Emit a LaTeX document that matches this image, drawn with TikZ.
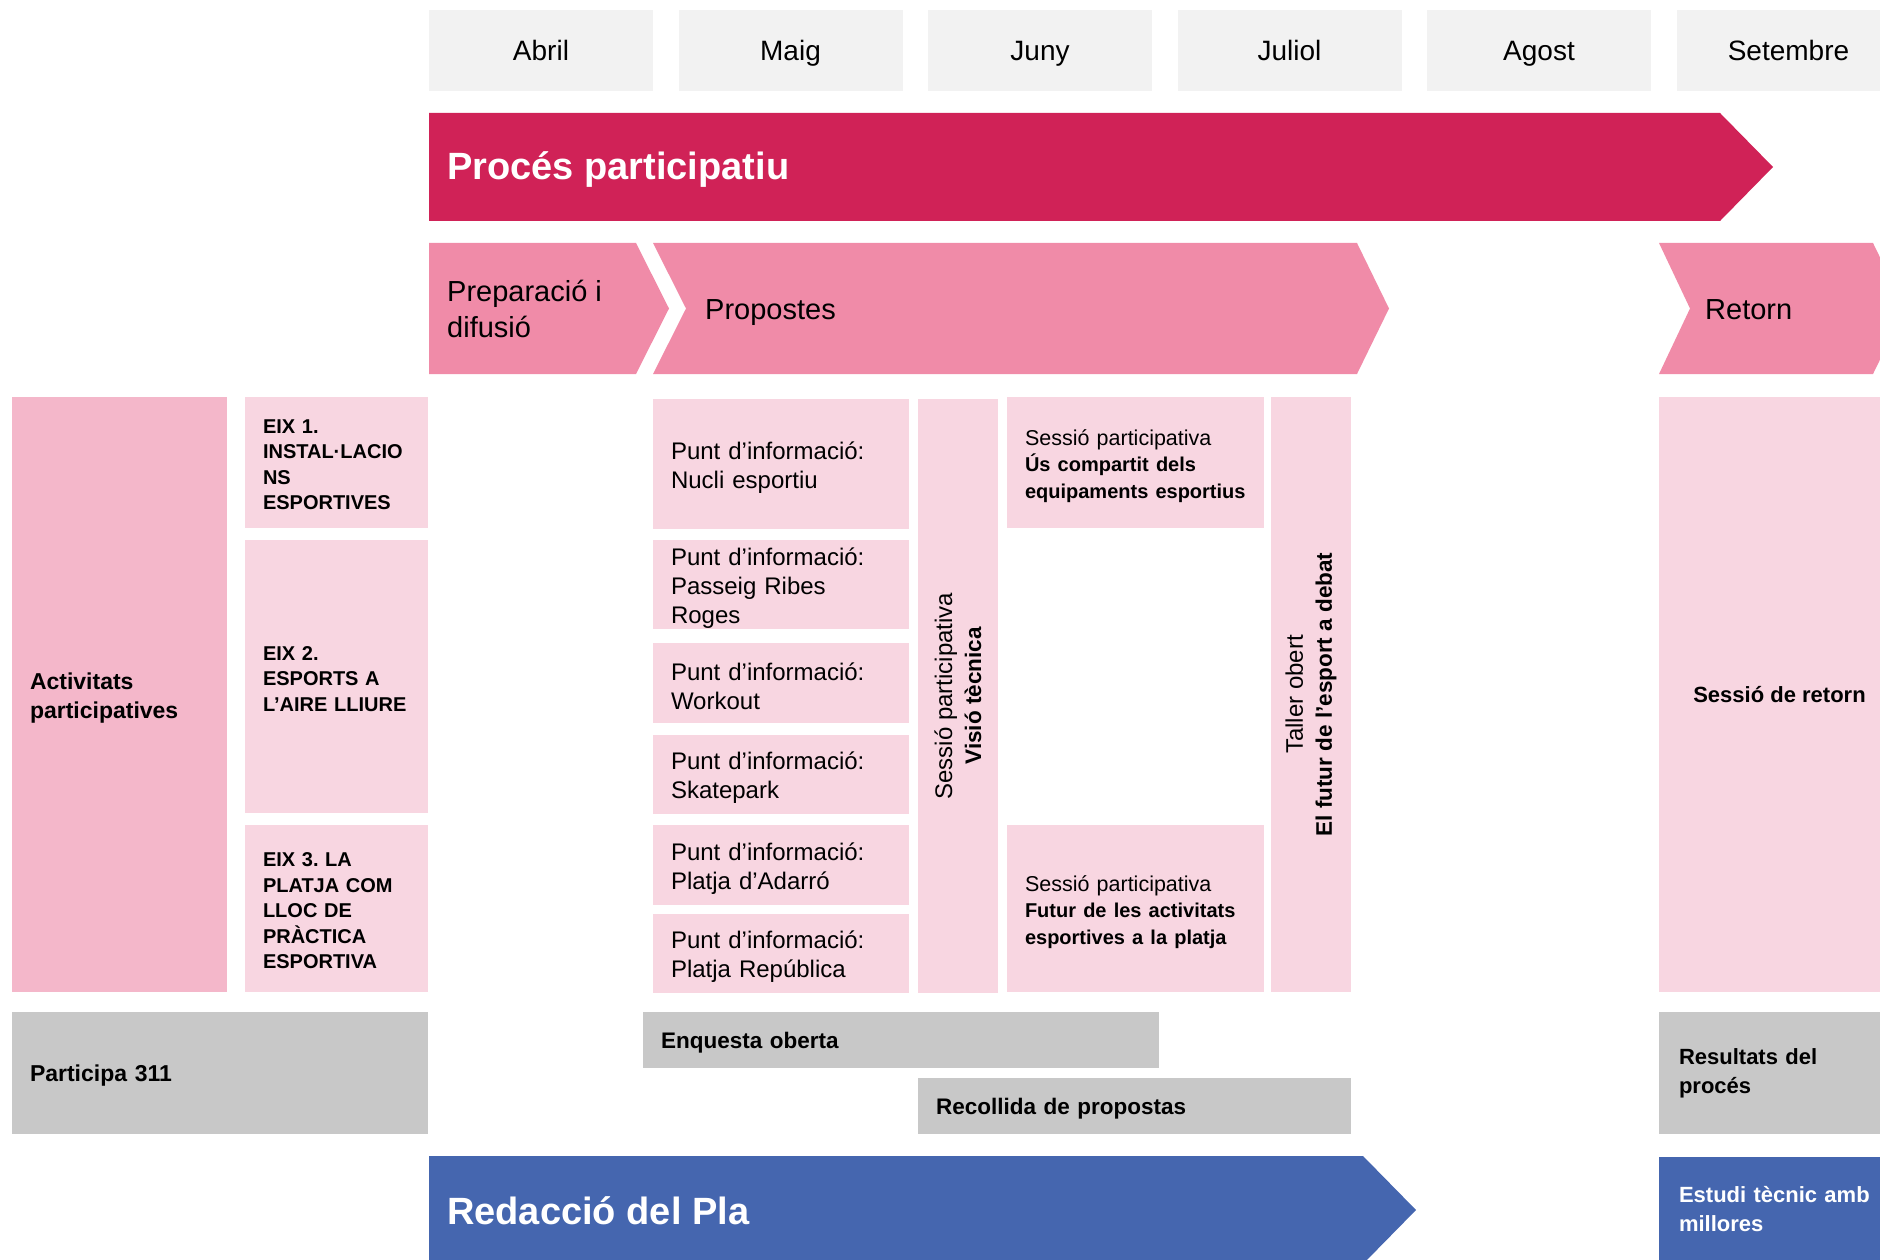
\documentclass[tikz,border=0pt]{standalone}
\usepackage{fontspec}
\setmainfont{Liberation Sans}
\definecolor{monthgray}{HTML}{F2F2F2}
\definecolor{crimson}{HTML}{D02257}
\definecolor{chevpink}{HTML}{F08BA8}
\definecolor{actpink}{HTML}{F4B7CA}
\definecolor{lightpink}{HTML}{F8D6E1}
\definecolor{boxgray}{HTML}{C8C8C8}
\definecolor{planblue}{HTML}{4566AF}
\tikzset{
  month/.style={fill=monthgray, minimum width=224pt, minimum height=81pt, inner sep=0pt, text height=20pt, text depth=0pt, font=\fontsize{28}{34}\selectfont},
  bandlabel/.style={anchor=west, inner sep=0pt, text=white, text height=27.2pt, text depth=0pt, font=\bfseries\fontsize{38}{46}\selectfont},
  phaselabel/.style={anchor=west, inner sep=0pt, align=left, font=\fontsize{29}{36}\selectfont},
  oneline/.style={text height=20.8pt, text depth=0pt},
  cell/.style={inner xsep=18pt, inner ysep=0pt, align=left},
  axisbox/.style={cell, fill=lightpink, minimum width=183pt, text width=147pt, execute at begin node={\rule{0pt}{18.5pt}}, font=\bfseries\fontsize{20}{25.5}\selectfont},
  punt/.style={cell, fill=lightpink, minimum width=256pt, text width=220pt, execute at begin node={\rule{0pt}{24.5pt}}, font=\fontsize{24}{29}\selectfont},
  sessio/.style={cell, fill=lightpink, minimum width=257pt, text width=221pt, execute at begin node={\rule{0pt}{23pt}}, font=\fontsize{21.5}{26.5}\selectfont},
  vert/.style={fill=lightpink, rotate=90, minimum height=80pt, inner sep=0pt, align=center, font=\fontsize{24}{29}\selectfont},
  graybox/.style={cell, fill=boxgray, font=\bfseries\fontsize{22.5}{29}\selectfont},
}
\newcommand{\bsmall}[1]{{\bfseries\fontsize{20}{26.5}\selectfont #1}}
\newcommand{\bvert}[1]{{\bfseries\fontsize{22.5}{29}\selectfont #1}}
\begin{document}
\frenchspacing
\begin{tikzpicture}[x=1pt,y=-1pt]
\useasboundingbox (0,0) rectangle (1880,1260);
\clip (0,0) rectangle (1880,1260);

% months
\node[month] (abril) at (541,50.5) {Abril};
\node[month] (maig) at (790.5,50.5) {Maig};
\node[month] (juny) at (1040,50.5) {Juny};
\node[month] (juliol) at (1289.5,50.5) {Juliol};
\node[month] (agost) at (1539,50.5) {Agost};
\node[month] (setembre) at (1788.5,50.5) {Setembre};

% Proces participatiu band
\fill[crimson] (429,113) -- (1720,113) -- (1773,167) -- (1720,221) -- (429,221) -- cycle;
\node[bandlabel] (proces) at (447,166) {Procés participatiu};

% phases
\fill[chevpink] (429,243) -- (636,243) -- (669,308.5) -- (636,374) -- (429,374) -- cycle;
\node[phaselabel] (prep) at (447,309) {Preparació i\\difusió};
\fill[chevpink] (653,243) -- (1357,243) -- (1389,308.5) -- (1357,374) -- (653,374) -- (686,308.5) -- cycle;
\node[phaselabel, oneline] (prop) at (705,309) {Propostes};
\fill[chevpink] (1659,243) -- (1873,243) -- (1905,308.5) -- (1873,374) -- (1659,374) -- (1690,308.5) -- cycle;
\node[phaselabel, oneline] (ret) at (1705,309) {Retorn};

% left column
\node[cell, fill=actpink, minimum width=215pt, minimum height=595pt, text width=179pt, execute at begin node={\rule{0pt}{24pt}}, font=\bfseries\fontsize{23}{29}\selectfont] (act) at (119.5,694.5) {Activitats\\participatives};
\node[axisbox, minimum height=131pt] (eix1) at (336.5,462.5) {EIX 1.\\INSTAL·LACIO\\NS\\ESPORTIVES};
\node[axisbox, minimum height=273pt] (eix2) at (336.5,676.5) {EIX 2.\\ESPORTS A\\L’AIRE LLIURE};
\node[axisbox, minimum height=167pt] (eix3) at (336.5,908.5) {EIX 3. LA\\PLATJA COM\\LLOC DE\\PRÀCTICA\\ESPORTIVA};

% punts d'informacio
\node[punt, minimum height=130pt] (p1) at (781,464) {Punt d’informació:\\Nucli esportiu};
\node[punt, minimum height=89pt] (p2) at (781,584.5) {Punt d’informació:\\Passeig Ribes\\Roges};
\node[punt, minimum height=80pt] (p3) at (781,683) {Punt d’informació:\\Workout};
\node[punt, minimum height=79pt] (p4) at (781,774.5) {Punt d’informació:\\Skatepark};
\node[punt, minimum height=80pt] (p5) at (781,865) {Punt d’informació:\\Platja d’Adarró};
\node[punt, minimum height=79pt] (p6) at (781,953.5) {Punt d’informació:\\Platja República};

% vertical sessions
\node[vert, minimum width=594pt] (visio) at (958,696) {Sessió participativa\\\bvert{Visió tècnica}};
\node[vert, minimum width=595pt] (taller) at (1311,694.5) {Taller obert\\\bvert{El futur de l’esport a debat}};

% sessions
\node[sessio, minimum height=131pt] (us) at (1135.5,462.5) {Sessió participativa\\\bsmall{Ús compartit dels}\\\bsmall{equipaments esportius}};
\node[sessio, minimum height=167pt] (futur) at (1135.5,908.5) {Sessió participativa\\\bsmall{Futur de les activitats}\\\bsmall{esportives a la platja}};

% retorn
\node[fill=lightpink, minimum width=241pt, minimum height=595pt, inner sep=0pt, font=\bfseries\fontsize{22}{29}\selectfont] (sret) at (1779.5,694.5) {Sessió de retorn};

% gray rows
\node[graybox, minimum width=416pt, minimum height=122pt, text width=380pt, text height=16.5pt, text depth=0pt, font=\bfseries\fontsize{23}{29}\selectfont] (part) at (220,1073) {Participa 311};
\node[graybox, minimum width=516pt, minimum height=56pt, text width=480pt, text height=16.1pt, text depth=0pt] (enq) at (901,1040) {Enquesta oberta};
\node[graybox, minimum width=433pt, minimum height=56pt, text width=397pt, text height=16.1pt, text depth=0pt] (rec) at (1134.5,1106) {Recollida de propostas};
\node[graybox, inner xsep=20pt, minimum width=241pt, minimum height=122pt, text width=201pt, font=\bfseries\fontsize{22}{29}\selectfont] (res) at (1779.5,1073) {Resultats del\\procés};

% redaccio band
\fill[planblue] (429,1156) -- (1363,1156) -- (1416,1210) -- (1363,1264) -- (429,1264) -- cycle;
\node[bandlabel] (redac) at (447,1211) {Redacció del Pla};
\node[cell, fill=planblue, text=white, inner xsep=20pt, minimum width=241pt, minimum height=106pt, text width=201pt, font=\bfseries\fontsize{22}{29}\selectfont] (estudi) at (1779.5,1209.5) {Estudi tècnic amb\\millores};
\end{tikzpicture}
\end{document}
